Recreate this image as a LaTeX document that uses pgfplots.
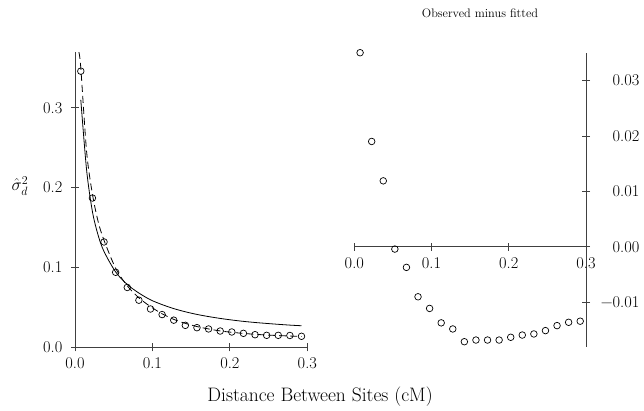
\documentclass[border=0pt]{standalone}
\usepackage{pgfplots}
\pgfplotsset{compat=1.18}
\begin{document}
\fontsize{19.5}{23}\selectfont
\begin{tikzpicture}[x=1pt,y=1pt]
\path[use as bounding box] (0,0) rectangle (644,410);
\pgfplotsset{
  rstyle/.style={
    scale only axis,
    tick style={black!75, line width=0.8pt},
    tick align=outside,
    major tick length=8pt,
    tick label style={font=\fontsize{16.4}{19}\selectfont},
    xmin=0, xmax=0.3,
    xtick={0,0.1,0.2,0.3},
    xticklabels={0.0,0.1,0.2,0.3},
    scaled ticks=false,
  },
  rlines/.style={
    axis line style={-, black!75, line width=0.8pt},
    x axis line style={-}, y axis line style={-},
  }
}
\begin{axis}[rstyle,
  at={(75pt,62.7pt)}, anchor=south west,
  width=232.3pt, height=295.3pt,
  ymin=0, ymax=0.37,
  axis x line=bottom, axis y line=left, rlines,
  ytick={0,0.1,0.2,0.3},
  yticklabels={0.0,0.1,0.2,0.3},
  yticklabel style={xshift=-2pt},
]
\addplot[black, line width=0.8pt, smooth] coordinates {
(0.0075,0.310) (0.015,0.222) (0.0225,0.170) (0.03,0.140) (0.0375,0.120)
(0.0525,0.0944) (0.0675,0.0787) (0.0825,0.0680) (0.0975,0.0595)
(0.1125,0.0535) (0.1275,0.0485) (0.1425,0.0445) (0.1575,0.0412)
(0.1725,0.0385) (0.1875,0.0362) (0.2025,0.0342) (0.2175,0.0325)
(0.2325,0.0311) (0.2475,0.0299) (0.2625,0.0288) (0.2775,0.0278) (0.2925,0.0270)
};
\addplot[black, line width=0.8pt, smooth, dash pattern=on 7pt off 4pt] coordinates {
(0.005,0.370) (0.0075,0.350) (0.015,0.245) (0.0225,0.192) (0.03,0.157)
(0.0375,0.134) (0.0525,0.099) (0.0675,0.077) (0.0825,0.062) (0.0975,0.051)
(0.1125,0.042) (0.1275,0.035) (0.1425,0.030) (0.1575,0.026) (0.1725,0.023)
(0.1875,0.0205) (0.2025,0.0188) (0.2175,0.0174) (0.2325,0.0163)
(0.2475,0.0154) (0.2625,0.0147) (0.2775,0.0141) (0.2925,0.0136)
};
\addplot[only marks, mark=o, mark size=3.3pt, mark options={black, line width=0.7pt, fill=white}] coordinates {
(0.0075,0.346) (0.0225,0.187) (0.0375,0.132) (0.0525,0.094) (0.0675,0.075)
(0.0825,0.059) (0.0975,0.048) (0.1125,0.041) (0.1275,0.034) (0.1425,0.0275)
(0.1575,0.0246) (0.1725,0.0230) (0.1875,0.0204) (0.2025,0.0192) (0.2175,0.0175)
(0.2325,0.0158) (0.2475,0.0150) (0.2625,0.0150) (0.2775,0.0148) (0.2925,0.0138)
};
\end{axis}
\begin{axis}[rstyle,
  at={(354.3pt,63.3pt)}, anchor=south west,
  width=231.7pt, height=294pt,
  ymin=-0.018, ymax=0.035,
  axis x line=middle, axis y line=right, rlines,
  hide obscured x ticks=false, hide obscured y ticks=false,
  ytick={-0.01,0,0.01,0.02,0.03},
  yticklabels={−0.01,0.00,0.01,0.02,0.03},
  yticklabel style={anchor=east, xshift=56pt},
  clip=false,
]
\addplot[only marks, mark=o, mark size=3.3pt, mark options={black, line width=0.7pt}] coordinates {
(0.0075,0.0350) (0.0225,0.0190) (0.0375,0.0119) (0.0525,-0.0004) (0.0675,-0.0037)
(0.0825,-0.0090) (0.0975,-0.0111) (0.1125,-0.0137) (0.1275,-0.0148) (0.1425,-0.0171)
(0.1575,-0.0168) (0.1725,-0.0168) (0.1875,-0.0168) (0.2025,-0.0163) (0.2175,-0.0159)
(0.2325,-0.0157) (0.2475,-0.0151) (0.2625,-0.0142) (0.2775,-0.0136) (0.2925,-0.0134)
};
\end{axis}
\node at (480,397) {\fontsize{12.3}{14}\selectfont Observed minus fitted};
\node at (20,224) {\fontsize{17.28}{20}\selectfont $\hat{\sigma}_d^2$};
\node at (320,13) {Distance Between Sites (cM)};
\end{tikzpicture}
\end{document}
